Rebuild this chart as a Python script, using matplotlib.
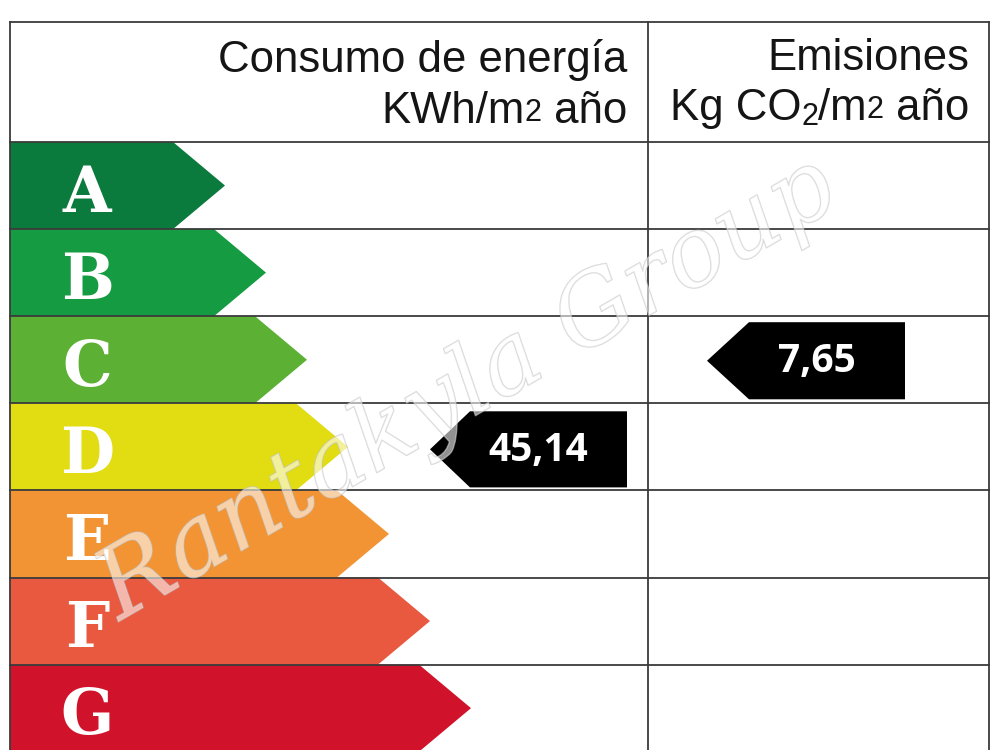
import matplotlib
matplotlib.use("Agg")
import matplotlib.pyplot as plt
from matplotlib.patches import Polygon
import matplotlib.patheffects as pe

# energy classes, top to bottom
classes = ["A", "B", "C", "D", "E", "F", "G"]
colors = ["#0b7a3d", "#159b41", "#5cb034", "#e2dc12", "#f29433", "#e9593f", "#d1122b"]

# rated values
energy_value = 45.14      # kWh/m2 año
energy_class = "D"
co2_value = 7.65          # kg CO2/m2 año
co2_class = "C"

fig = plt.figure(figsize=(10, 7.5), dpi=100)
ax = fig.add_axes([0, 0, 1, 1])
ax.set_xlim(0, 1000)
ax.set_ylim(750, 0)
ax.axis("off")
renderer = fig.canvas.get_renderer()

left, right, mid = 10, 989, 648
top, head = 22, 142
row_h = 87.1

# arrows for each class
for i, (c, col) in enumerate(zip(classes, colors)):
    y0 = head + i * row_h
    y1 = y0 + row_h
    body = 173 + 41 * i
    tip = 225 + 41 * i
    ax.add_patch(Polygon([(left, y0), (body, y0), (tip, (y0 + y1) / 2),
                          (body, y1), (left, y1)], closed=True,
                         facecolor=col, edgecolor="none", zorder=1))
    ax.text(87, (y0 + y1) / 2 + 26, c, color="white", fontsize=45,
            family="DejaVu Serif", weight="bold", ha="center", va="baseline",
            zorder=2)

# grid lines
lc = "#3a3a3a"
lw = 1.3
ax.plot([left, right], [top, top], color=lc, lw=lw, zorder=5)
for i in range(8):
    y = head + i * row_h
    ax.plot([left, right], [y, y], color=lc, lw=lw, zorder=5)
ax.plot([left, left], [top, 752], color=lc, lw=lw, zorder=5)
ax.plot([mid, mid], [top, 752], color=lc, lw=lw, zorder=5)
ax.plot([right, right], [top, 752], color=lc, lw=lw, zorder=5)

# headers
FS = 31.5
hf = dict(family="Liberation Sans", color="#151515", ha="right",
          va="baseline", zorder=6)


def line_right(x, y, parts):
    # parts: (text, size factor, vertical shift in px); drawn right to left
    for txt, k, dy in reversed(parts):
        t = ax.text(x, y - dy, txt, fontsize=FS * k, **hf)
        bb = t.get_window_extent(renderer)
        x -= bb.width


ax.text(627, 72, "Consumo de energía", fontsize=FS, **hf)
line_right(627, 123, [("KWh/m", 1, 0), ("2", 0.7, 2), (" año", 1, 0)])
ax.text(969, 70, "Emisiones", fontsize=FS, **hf)
line_right(969, 120, [("Kg CO", 1, 0), ("2", 0.7, -5), ("/m", 1, 0),
                      ("2", 0.7, 2), (" año", 1, 0)])


def pointer(x_tip, x_body, x_right, y0, y1, value):
    ym = (y0 + y1) / 2
    ax.add_patch(Polygon([(x_tip, ym), (x_body, y0), (x_right, y0),
                          (x_right, y1), (x_body, y1)], closed=True,
                         facecolor="black", edgecolor="none", zorder=3))
    ax.text((x_body + x_right) / 2 - 10, ym + 1,
            f"{value:.2f}".replace(".", ","), color="white", fontsize=28,
            family="Open Sans", weight="bold", ha="center", va="center",
            zorder=4)


ei = classes.index(energy_class)
ey0 = head + ei * row_h
pointer(430, 470, 627, ey0 + 8, ey0 + row_h - 3, energy_value)

ci = classes.index(co2_class)
cy0 = head + ci * row_h
pointer(707, 749, 905, cy0 + 6, cy0 + row_h - 4, co2_value)

# watermark
ax.text(468, 390, "Rantakyla Group", fontsize=70, family="DejaVu Serif",
        style="italic", color=(1, 1, 1, 0.35), rotation=30, ha="center",
        va="center", zorder=7,
        path_effects=[pe.Stroke(linewidth=1.0, foreground=(0.75, 0.75, 0.75, 0.6)),
                      pe.Normal()])

fig.savefig("out.png", dpi=100)
